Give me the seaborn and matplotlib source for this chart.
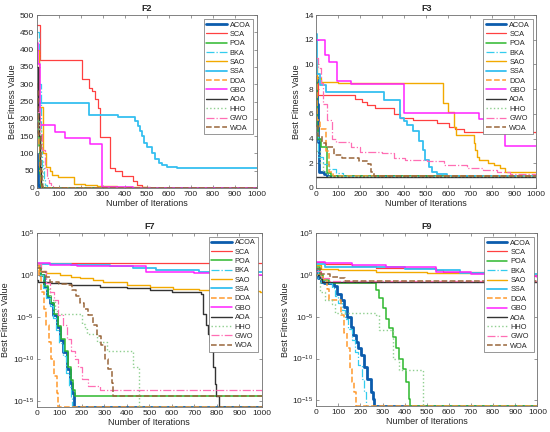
import matplotlib
matplotlib.use("Agg")
import matplotlib.pyplot as plt
import numpy as np
import pandas as pd
import seaborn as sns
from matplotlib.ticker import NullLocator

ALGOS = ["ACOA", "SCA", "POA", "BKA", "SAO", "SSA", "DOA", "GBO", "AOA", "HHO", "GWO", "WOA"]
ITER_TICKS = list(range(0, 1001, 100))
LOG_TICKS = [1e-15, 1e-10, 1e-5, 1e0, 1e5]
FLOOR = 2.2e-16

# (iteration, best fitness) breakpoints
# ---- F2 ----
F2_ACOA = [(0, 98), (2, 60), (4, 25), (7, 8), (10, 2), (14, 0.3), (1000, 0.3)]
F2_SCA = [(0, 470), (15, 371), (205, 316), (239, 288), (250, 280), (265, 258), (276, 230),
          (288, 148), (333, 57), (356, 48), (386, 35), (439, 20), (455, 8), (477, 3),
          (515, 0.5), (1000, 0.5)]
F2_POA = [(0, 250), (5, 200), (10, 120), (15, 40), (20, 5), (25, 0.5), (1000, 0.5)]
F2_BKA = [(0, 450), (10, 300), (18, 150), (25, 60), (32, 25), (38, 8), (45, 0.5), (1000, 0.5)]
F2_SAO = [(0, 400), (10, 235), (30, 100), (41, 60), (60, 50), (70, 38), (98, 33), (170, 10),
          (220, 8), (273, 5), (364, 3), (500, 1), (590, 0.5), (1000, 0.5)]
F2_SSA = [(0, 250), (5, 246), (235, 210), (371, 205), (447, 195), (460, 180), (470, 165),
          (477, 150), (488, 130), (500, 118), (523, 100), (538, 85), (553, 72), (568, 65),
          (591, 60), (636, 58), (1000, 58)]
F2_DOA = [(0, 300), (5, 200), (10, 120), (15, 50), (20, 10), (25, 0.5), (1000, 0.5)]
F2_GBO = [(0, 420), (5, 360), (15, 183), (83, 162), (129, 145), (242, 128), (295, 3),
          (439, 0.5), (1000, 0.5)]
F2_AOA = [(0, 350), (5, 220), (10, 150), (15, 60), (20, 10), (25, 0.5), (1000, 0.5)]
F2_HHO = [(0, 200), (10, 170), (20, 80), (30, 10), (35, 0.5), (1000, 0.5)]
F2_GWO = [(0, 220), (15, 160), (25, 110), (35, 55), (45, 30), (55, 15), (65, 5), (75, 0.5),
          (1000, 0.5)]
F2_WOA = [(0, 280), (5, 160), (12, 150), (18, 50), (25, 5), (30, 0.5), (1000, 0.5)]

# ---- F3 ----
F3_ACOA = [(0, 9), (4, 6.8), (8, 3.7), (14, 1.3), (35, 1.1), (50, 0.998), (1000, 0.998)]
F3_SCA = [(0, 8.5), (10, 7.5), (177, 7.2), (208, 7.0), (231, 6.7), (269, 6.45), (352, 6.0),
          (382, 5.65), (442, 5.5), (548, 5.26), (602, 4.96), (632, 4.75), (670, 4.5),
          (1000, 4.45)]
F3_POA = [(0, 9), (5, 5), (10, 4), (20, 3.3), (50, 1.2), (65, 0.98), (1000, 0.98)]
F3_BKA = [(0, 4.5), (10, 2.5), (30, 1.9), (60, 1.5), (90, 1.2), (120, 0.98), (1000, 0.98)]
F3_SAO = [(0, 10), (5, 8.9), (20, 8.6), (100, 8.5), (574, 6.85), (601, 6.17), (627, 4.96),
          (635, 4.29), (715, 3.6), (723, 3.07), (730, 2.53), (738, 2.27), (780, 2.0),
          (810, 1.86), (836, 1.59), (859, 1.32), (1000, 1.3)]
F3_SSA = [(0, 12.5), (3, 9.2), (15, 8.3), (45, 7.8), (306, 7.1), (382, 5.64), (397, 5.4),
          (412, 5.1), (442, 4.6), (465, 3.8), (485, 3.1), (495, 2.3), (511, 1.7),
          (526, 1.3), (548, 1.1), (594, 0.98), (1000, 0.98)]
F3_DOA = [(0, 9), (5, 5.5), (15, 4.8), (45, 3.0), (60, 1.3), (75, 0.98), (1000, 0.98)]
F3_GBO = [(0, 12), (40, 10.8), (60, 10.2), (95, 8.7), (160, 8.4), (400, 6.1), (740, 5.6),
          (857, 3.4), (1000, 3.4)]
F3_AOA = [(0, 0.92), (1000, 0.92)]
F3_HHO = [(0, 3), (15, 2), (30, 1.3), (50, 0.98), (1000, 0.98)]
F3_GWO = [(0, 10.5), (10, 9.7), (20, 8.5), (30, 6.8), (50, 5.5), (70, 4.0), (90, 3.7),
          (160, 3.3), (200, 2.9), (300, 2.8), (352, 2.45), (405, 2.3), (503, 2.15),
          (579, 1.85), (685, 1.65), (760, 1.45), (820, 1.3), (880, 1.15), (1000, 1.1)]
F3_WOA = [(0, 5), (10, 4.2), (25, 3.6), (45, 3.3), (80, 2.7), (117, 2.4), (195, 2.15),
          (235, 1.9), (250, 1.3), (262, 0.98), (1000, 0.98)]

# ---- F7 ----
F7_ACOA = [(0, 20), (15, 1), (30, 0.04), (44, 2.5e-3), (59, 4e-4), (74, 1.6e-5), (89, 6e-7),
           (103, 1.6e-8), (118, 6e-10), (133, 6e-12), (148, 1.6e-13), (155, 1e-14),
           (165, FLOOR), (1000, FLOOR)]
F7_SCA = [(0, 23), (1000, 23)]
F7_POA = [(0, 20), (18, 1), (33, 0.05), (48, 3e-3), (63, 5e-4), (78, 2e-5), (93, 8e-7),
          (108, 2.5e-8), (123, 1e-9), (138, 1e-11), (153, 3e-13), (162, 2e-14),
          (170, 4.44e-15), (1000, 4.44e-15)]
F7_BKA = [(0, 20), (13, 1), (28, 0.03), (42, 2e-3), (57, 2e-4), (72, 8e-6), (87, 3e-7),
          (100, 8e-9), (115, 2e-10), (128, 2e-12), (142, 5e-14), (150, 3e-15),
          (158, FLOOR), (1000, FLOOR)]
F7_SAO = [(0, 20), (8, 3), (40, 1.5), (103, 1), (150, 0.6), (192, 0.4), (250, 0.25),
          (295, 0.16), (399, 0.06), (502, 0.04), (605, 0.022), (723, 0.016), (871, 0.012),
          (990, 0.01), (1000, 0.01)]
F7_SSA = [(0, 20), (150, 17), (325, 13), (428, 6.3), (531, 4), (723, 2.5), (900, 2.1),
          (1000, 2.1)]
F7_DOA = [(0, 20), (8, 1), (18, 1e-2), (30, 1e-4), (42, 1e-6), (54, 1e-8), (65, 1e-10),
          (78, 1e-12), (88, 1e-14), (96, FLOOR), (1000, FLOOR)]
F7_GBO = [(0, 25), (60, 16), (177, 10), (485, 2.5), (700, 1.6), (970, 1.0), (1000, 1.0)]
F7_AOA = [(0, 0.25), (5, 0.15), (59, 0.1), (150, 0.07), (281, 0.04), (400, 0.025),
          (502, 0.016), (600, 0.01), (730, 0.006), (740, 2e-5), (752, 1e-6), (760, 1e-7),
          (768, 1e-8), (776, 1e-9), (782, 1e-11), (790, 1e-13), (795, 4.44e-15),
          (808, FLOOR), (1000, FLOOR)]
F7_HHO = [(0, 20), (20, 1), (40, 0.02), (60, 1e-3), (80, 1e-4), (89, 2.5e-5), (200, 1.6e-6),
          (215, 4e-7), (222, 1e-7), (266, 1e-8), (310, 1e-9), (428, 1e-11), (452, FLOOR),
          (1000, FLOOR)]
F7_GWO = [(0, 20), (20, 3), (40, 0.1), (59, 1e-2), (78, 1e-3), (96, 1.6e-5), (115, 1e-6),
          (133, 2.5e-8), (150, 1e-9), (170, 1e-10), (185, 1e-11), (200, 4e-13),
          (229, 7e-14), (281, 2e-14), (1000, 1.6e-14)]
F7_WOA = [(0, 6), (20, 2), (40, 0.5), (59, 0.16), (100, 0.08), (133, 0.06), (155, 0.016),
          (175, 3e-3), (192, 4e-4), (210, 8e-5), (229, 1.6e-5), (248, 1e-6), (266, 6e-8),
          (285, 5e-9), (303, 1e-10), (318, 6e-12), (332, 1.6e-13), (340, 4.44e-15),
          (1000, 4.44e-15)]

# ---- F9 ----
F9_ACOA = [(0, 6), (10, 0.5), (20, 0.15), (33, 0.1), (79, 0.05), (94, 6e-3), (110, 1e-3),
           (125, 1.6e-4), (140, 1e-5), (155, 6e-7), (168, 6e-8), (178, 1e-8), (190, 1.6e-9),
           (201, 2.5e-10), (216, 1e-11), (231, 4e-13), (247, 1e-14), (257, 1.6e-15),
           (262, FLOOR), (1000, FLOOR)]
F9_SCA = [(0, 32), (41, 19), (163, 13), (269, 7.6), (543, 4), (574, 2.5), (787, 0.8),
          (1000, 0.7)]
F9_POA = [(0, 10), (15, 1), (30, 0.25), (56, 0.1), (254, 0.1), (269, 0.016), (285, 1.6e-3),
          (300, 1e-4), (315, 6e-6), (330, 4e-7), (345, 4e-8), (361, 1.6e-9), (376, 1e-10),
          (391, 6e-12), (406, 1.6e-13), (421, 1.6e-15), (426, FLOOR), (1000, FLOOR)]
F9_BKA = [(0, 6), (10, 0.5), (20, 0.15), (33, 0.1), (70, 0.03), (85, 3e-3), (100, 5e-4),
          (115, 6e-5), (130, 5e-6), (145, 3e-7), (160, 1.6e-8), (175, 6e-10), (190, 1.6e-11),
          (205, 4e-13), (218, 1e-14), (225, FLOOR), (1000, FLOOR)]
F9_SAO = [(0, 16), (20, 6), (100, 4), (269, 2.5), (500, 2), (640, 1.6), (787, 1), (1000, 1)]
F9_SSA = [(0, 19), (41, 10), (269, 8), (400, 6), (543, 4), (650, 2), (787, 1.5), (1000, 1.5)]
F9_DOA = [(0, 1), (30, 0.3), (49, 0.02), (56, 1e-3), (110, 1.6e-5), (125, 1e-7),
          (140, 1.6e-9), (152, 6e-12), (163, 1.6e-13), (172, 1e-14), (178, FLOOR),
          (1000, FLOOR)]
F9_GBO = [(0, 40), (41, 25), (163, 16), (315, 10), (543, 2.5), (700, 1.5), (878, 0.8),
          (1000, 0.6)]
F9_AOA = [(0, 1), (15, 0.3), (26, 0.15), (1000, 0.15)]
F9_HHO = [(0, 1), (18, 0.01), (41, 1e-3), (71, 3e-4), (87, 2.5e-5), (269, 1.6e-5),
          (285, 2.5e-7), (345, 1e-10), (376, 4e-12), (467, 4e-12), (483, FLOOR), (1000, FLOOR)]
F9_GWO = [(0, 3), (20, 0.5), (56, 0.2), (1000, 0.2)]
F9_WOA = [(0, 5), (20, 1.5), (60, 0.6), (100, 0.5), (132, 0.17), (1000, 0.17)]

PANELS = {
    "F2": [F2_ACOA, F2_SCA, F2_POA, F2_BKA, F2_SAO, F2_SSA, F2_DOA, F2_GBO, F2_AOA, F2_HHO, F2_GWO, F2_WOA],
    "F3": [F3_ACOA, F3_SCA, F3_POA, F3_BKA, F3_SAO, F3_SSA, F3_DOA, F3_GBO, F3_AOA, F3_HHO, F3_GWO, F3_WOA],
    "F7": [F7_ACOA, F7_SCA, F7_POA, F7_BKA, F7_SAO, F7_SSA, F7_DOA, F7_GBO, F7_AOA, F7_HHO, F7_GWO, F7_WOA],
    "F9": [F9_ACOA, F9_SCA, F9_POA, F9_BKA, F9_SAO, F9_SSA, F9_DOA, F9_GBO, F9_AOA, F9_HHO, F9_GWO, F9_WOA],
}

# colour, linewidth, linestyle
STYLE = {
    "ACOA": ("#0b5cad", 2.0, "-"),
    "SCA": ("#ff4040", 0.9, "-"),
    "POA": ("#2db82d", 1.1, "-"),
    "BKA": ("#33ccee", 0.9, "-."),
    "SAO": ("#f2a900", 1.0, "-"),
    "SSA": ("#35bff0", 1.3, "-"),
    "DOA": ("#ff9a2e", 1.1, "--"),
    "GBO": ("#ff22ff", 1.1, "-"),
    "AOA": ("#333333", 1.0, "-"),
    "HHO": ("#8fcf8f", 1.0, ":"),
    "GWO": ("#ff6eb4", 0.9, "-."),
    "WOA": ("#99663a", 1.1, "--"),
}

sns.set_style("ticks")
plt.rcParams["font.family"] = ["Liberation Sans", "DejaVu Sans"]
plt.rcParams["mathtext.fontset"] = "custom"
plt.rcParams["mathtext.rm"] = "Liberation Sans"

AX_COLOR = "#6e6e6e"
TXT_COLOR = "#262626"

fig = plt.figure(figsize=(5.5, 4.32), dpi=100)
fig.patch.set_facecolor("white")
positions = {
    "F2": [0.067, 0.565, 0.400, 0.400],
    "F3": [0.575, 0.565, 0.400, 0.400],
    "F7": [0.067, 0.058, 0.409, 0.403],
    "F9": [0.575, 0.060, 0.402, 0.400],
}

for panel, series in PANELS.items():
    ax = fig.add_axes(positions[panel])
    log = panel in ("F7", "F9")
    if log:
        ax.set_yscale("log")
    for name, pts in zip(ALGOS, series):
        df = pd.DataFrame(pts, columns=["iteration", "fitness"])
        color, lw, ls = STYLE[name]
        sns.lineplot(data=df, x="iteration", y="fitness", ax=ax, estimator=None, sort=False,
                     drawstyle="steps-post", color=color, linewidth=lw, linestyle=ls,
                     label=name, legend=False)

    ax.set_xlim(0, 1000)
    ax.set_xticks(ITER_TICKS)
    if panel == "F2":
        ax.set_ylim(0, 500)
        ax.set_yticks(np.arange(0, 501, 50))
    elif panel == "F3":
        ax.set_ylim(0, 14)
        ax.set_yticks(np.arange(0, 15, 2))
    else:
        ax.set_ylim(2e-16, 1e5)
        ax.set_yticks(LOG_TICKS)
        ax.yaxis.set_minor_locator(NullLocator())

    ax.set_title(panel, fontsize=6.5, fontweight="bold", color=TXT_COLOR, pad=3)
    ax.set_xlabel("Number of Iterations", fontsize=6.5, color=TXT_COLOR, labelpad=1)
    ax.set_ylabel("Best Fitness Value", fontsize=6.5, color=TXT_COLOR, labelpad=2)
    ax.tick_params(direction="in", top=True, right=True, length=2.5, width=0.5,
                   labelsize=6, colors=AX_COLOR, labelcolor=TXT_COLOR, pad=2)
    for sp in ax.spines.values():
        sp.set_visible(True)
        sp.set_color(AX_COLOR)
        sp.set_linewidth(0.6)

    leg = ax.legend(loc="upper right", fontsize=5.3, frameon=True, fancybox=False,
                    framealpha=1, edgecolor=AX_COLOR, borderpad=0.35, labelspacing=0.3,
                    handlelength=2.8, handletextpad=0.4, borderaxespad=0.5)
    leg.get_frame().set_linewidth(0.5)
    for t in leg.get_texts():
        t.set_color(TXT_COLOR)

fig.savefig("out.png", dpi=100, facecolor="white")
